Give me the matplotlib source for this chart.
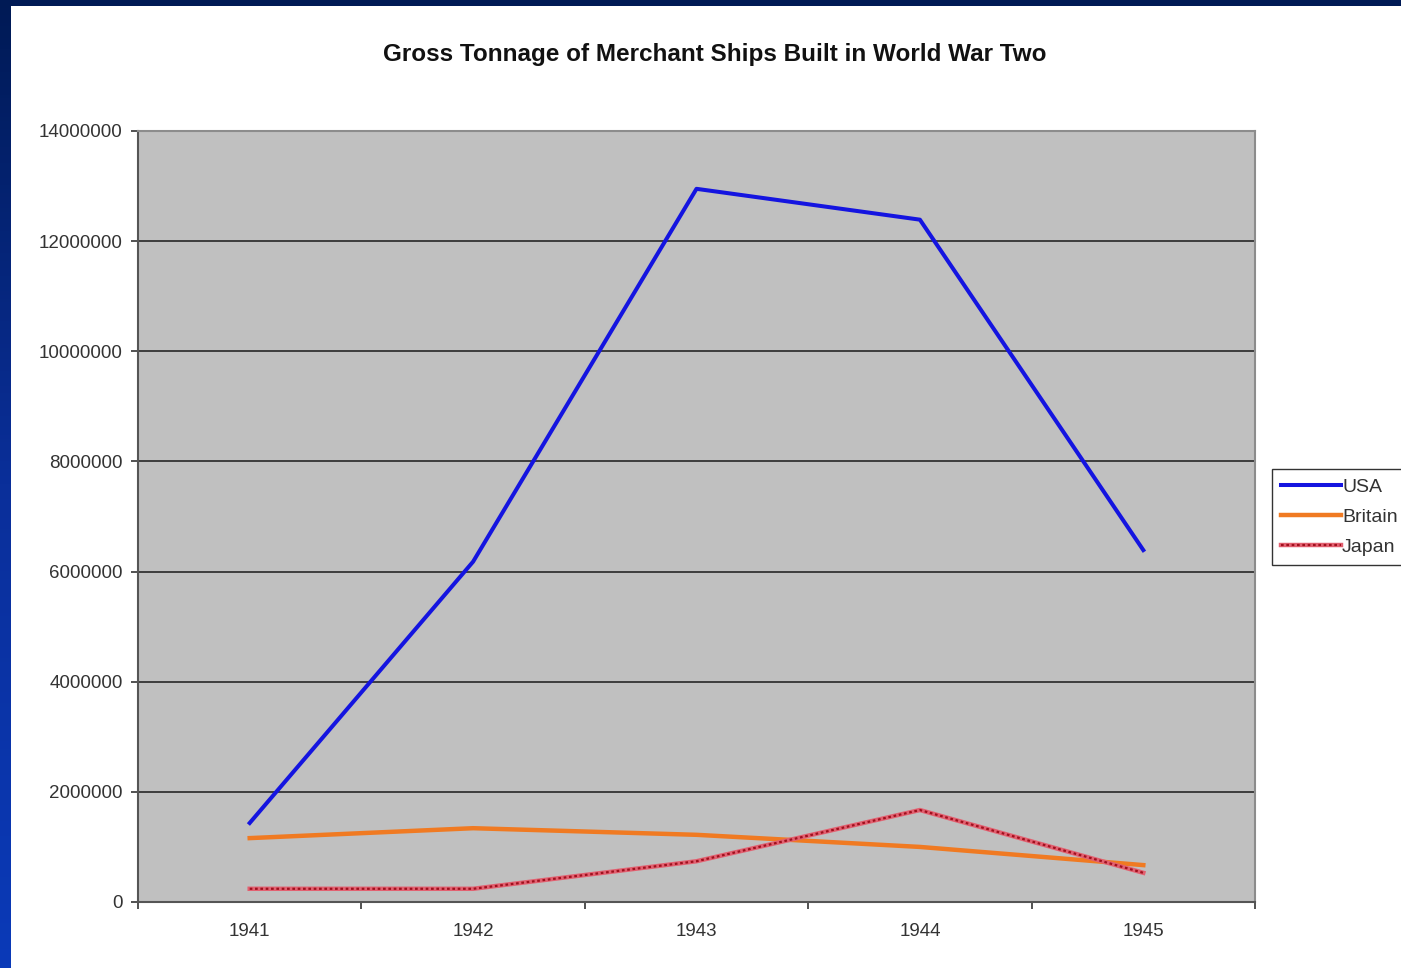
import numpy as np
import matplotlib.pyplot as plt
from matplotlib.colors import LinearSegmentedColormap
from matplotlib.patches import Rectangle
from matplotlib.legend_handler import HandlerTuple

plt.rcParams['font.family'] = ['Liberation Sans', 'DejaVu Sans']

years = ['1941', '1942', '1943', '1944', '1945']
usa = [1435000, 6180000, 12950000, 12390000, 6390000]
britain = [1160000, 1340000, 1220000, 1000000, 670000]
japan = [240000, 240000, 740000, 1670000, 530000]

W, H = 1401, 968
fig = plt.figure(figsize=(W / 100, H / 100), dpi=100)

# slide background: navy gradient strip on the left and along the top
bg = fig.add_axes([0, 0, 1, 1], zorder=-10)
grad = np.linspace(0, 1, 256).reshape(-1, 1)
bg.imshow(grad, aspect='auto', extent=[0, 1, 0, 1], origin='upper',
          cmap=LinearSegmentedColormap.from_list('slide', ['#001a55', '#0a2f9a', '#0a3ab8']))
bg.add_patch(Rectangle((11 / W, 0), 1 - 11 / W, 1 - 6 / H,
                       facecolor='white', edgecolor='none'))
bg.set_xlim(0, 1)
bg.set_ylim(0, 1)
bg.axis('off')

ax = fig.add_axes([138 / W, 66 / H, 1117 / W, 771 / H])
ax.set_facecolor('#c0c0c0')
x = np.arange(len(years))

usa_line, = ax.plot(x, usa, color='#1414e0', lw=2.9, zorder=3)
brit_line, = ax.plot(x, britain, color='#f07a22', lw=3.2, zorder=3)
jp_base, = ax.plot(x, japan, color='#e26070', lw=3.2, zorder=4)
jp_dots, = ax.plot(x, japan, color='#a0101e', lw=1.6, ls=(0, (1.2, 1.2)), zorder=5)

ax.set_xlim(-0.5, len(years) - 0.5)
ax.set_ylim(0, 14000000)
yt = np.arange(0, 14000001, 2000000)
ax.set_yticks(yt)
ax.set_yticklabels([str(v) for v in yt])
ax.set_xticks(x)
ax.set_xticklabels(years)
ax.set_xticks(np.arange(-0.5, len(years), 1), minor=True)
ax.tick_params(axis='x', which='major', length=0, pad=15, labelsize=13.5, labelcolor='#333333')
ax.tick_params(axis='x', which='minor', length=5, width=1.2, color='#333333', direction='out')
ax.tick_params(axis='y', length=5, width=1.2, color='#333333', pad=6, labelsize=13.5,
               labelcolor='#333333')

ax.grid(axis='y', color='#333333', lw=1.3, zorder=1)
ax.set_axisbelow(True)
for side in ['top', 'right']:
    ax.spines[side].set_color('#8c8c8c')
    ax.spines[side].set_linewidth(1.5)
for side in ['left', 'bottom']:
    ax.spines[side].set_color('#555555')
    ax.spines[side].set_linewidth(1.5)

fig.text(715 / W, 1 - 55 / H, 'Gross Tonnage of Merchant Ships Built in World War Two',
         ha='center', va='center', fontsize=17.5, fontweight='bold', color='#111111')

leg = fig.legend([usa_line, brit_line, (jp_base, jp_dots)], ['USA', 'Britain', 'Japan'],
                 handler_map={tuple: HandlerTuple(ndivide=1, pad=0)},
                 loc='center left', bbox_to_anchor=(1272 / W, 1 - 517 / H),
                 fontsize=14, frameon=True, fancybox=False, edgecolor='black',
                 handlelength=3.1, handletextpad=0.05, borderpad=0.45,
                 labelspacing=0.65, borderaxespad=0)
leg.get_frame().set_linewidth(1.0)
for t in leg.get_texts():
    t.set_color('#333333')

fig.savefig('out.png', dpi=100)
